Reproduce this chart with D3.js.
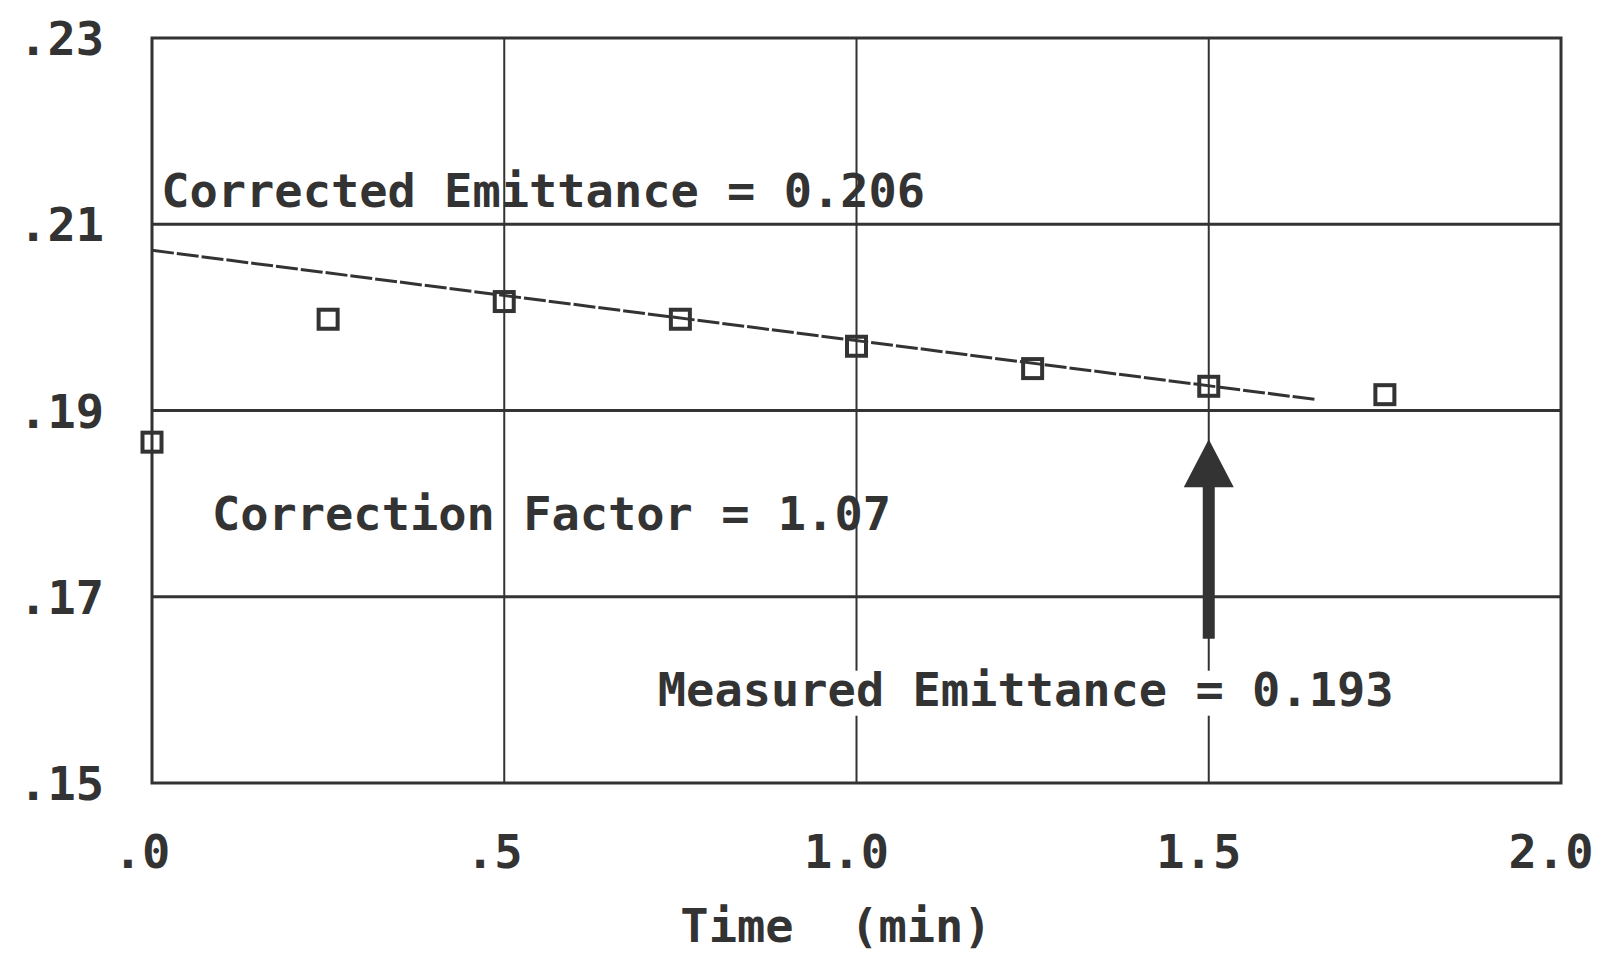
<!DOCTYPE html>
<html>
<head>
<meta charset="utf-8">
<script src="https://cdn.jsdelivr.net/npm/d3@7/dist/d3.min.js"></script>
<style>
html,body{margin:0;padding:0;background:#fff;}
svg{display:block;}
text{font-family:"DejaVu Sans Mono","Liberation Mono",monospace;font-weight:bold;fill:#333;white-space:pre;}
</style>
</head>
<body>
<svg id="chart" width="1598" height="955"></svg>
<script>
// ---- data ----
const times = [0, 0.25, 0.5, 0.75, 1.0, 1.25, 1.5, 1.75];
const emittance = [0.1866, 0.1998, 0.2017, 0.1998, 0.1969, 0.1945, 0.1926, 0.1917];
const fitTimes = [0, 1.65];
const fitValues = [0.2072, 0.1912];
const xTicks = [0, 0.5, 1.0, 1.5, 2.0];
const xTickLabels = [".0", ".5", "1.0", "1.5", "2.0"];
const yTicks = [0.15, 0.17, 0.19, 0.21, 0.23];
const yTickLabels = [".15", ".17", ".19", ".21", ".23"];
const arrowTime = 1.5;
const arrowTip = 0.1869;
const arrowBase = 0.1655;
const xTitle = "Time  (min)";
const notes = [
  {text: "Corrected Emittance = 0.206", t: 0.013, v: 0.2118},
  {text: "Correction Factor = 1.07", t: 0.085, v: 0.1772},
  {text: "Measured Emittance = 0.193", t: 0.718, v: 0.1583, mask: true}
];

// ---- layout ----
const L = 152, R = 1561, T = 38, B = 783;
const ink = "#333";
const svg = d3.select("#chart");
const x = d3.scaleLinear().domain([0, 2]).range([L, R]);
const y = d3.scaleLinear().domain([0.15, 0.23]).range([B, T]);

// gridlines
const g = svg.append("g");
g.selectAll("line.vx").data(xTicks.slice(1, -1)).join("line")
  .attr("x1", d => x(d)).attr("x2", d => x(d)).attr("y1", T).attr("y2", B)
  .attr("stroke", ink).attr("stroke-width", 2);
g.selectAll("line.hy").data(yTicks.slice(1, -1)).join("line")
  .attr("x1", L).attr("x2", R).attr("y1", d => y(d)).attr("y2", d => y(d))
  .attr("stroke", ink).attr("stroke-width", 3);

// frame
svg.append("rect").attr("x", L).attr("y", T).attr("width", R - L).attr("height", B - T)
  .attr("fill", "none").attr("stroke", ink).attr("stroke-width", 3);

// annotations
notes.forEach(n => {
  const t = svg.append("text").attr("x", x(n.t)).attr("y", y(n.v))
    .attr("font-size", 47).text(n.text);
  if (n.mask) {
    const bb = t.node().getBBox();
    svg.insert("rect", "text").attr("x", bb.x - 4).attr("y", bb.y + 9)
      .attr("width", bb.width + 8).attr("height", bb.height - 10).attr("fill", "#fff");
  }
});

// fit line
const line = d3.line().x(d => x(d[0])).y(d => y(d[1]));
svg.append("path").datum(fitTimes.map((t, i) => [t, fitValues[i]]))
  .attr("d", line).attr("fill", "none").attr("stroke", ink)
  .attr("stroke-width", 3).attr("stroke-dasharray", "22 3");

// markers
const s = 19;
svg.selectAll("rect.pt").data(times.map((t, i) => [t, emittance[i]])).join("rect")
  .attr("x", d => x(d[0]) - s / 2).attr("y", d => y(d[1]) - s / 2)
  .attr("width", s).attr("height", s)
  .attr("fill", "none").attr("stroke", ink).attr("stroke-width", 4);

// arrow
const ax = x(arrowTime), tipY = y(arrowTip), baseY = y(arrowBase);
const headH = 48, headW = 50, shaftW = 12;
svg.append("path")
  .attr("d", `M${ax},${tipY} L${ax + headW / 2},${tipY + headH} L${ax + shaftW / 2},${tipY + headH} L${ax + shaftW / 2},${baseY} L${ax - shaftW / 2},${baseY} L${ax - shaftW / 2},${tipY + headH} L${ax - headW / 2},${tipY + headH} Z`)
  .attr("fill", ink);

// tick labels
svg.selectAll("text.xt").data(xTicks).join("text")
  .attr("x", d => x(d) - 10).attr("y", 868).attr("text-anchor", "middle")
  .attr("font-size", 47).text((d, i) => xTickLabels[i]);
svg.selectAll("text.yt").data(yTicks).join("text")
  .attr("x", 104).attr("y", d => y(d) + 17).attr("text-anchor", "end")
  .attr("font-size", 47).text((d, i) => yTickLabels[i]);

// axis title
svg.append("text").attr("x", 836).attr("y", 942).attr("text-anchor", "middle")
  .attr("font-size", 47).text(xTitle);
</script>
</body>
</html>
